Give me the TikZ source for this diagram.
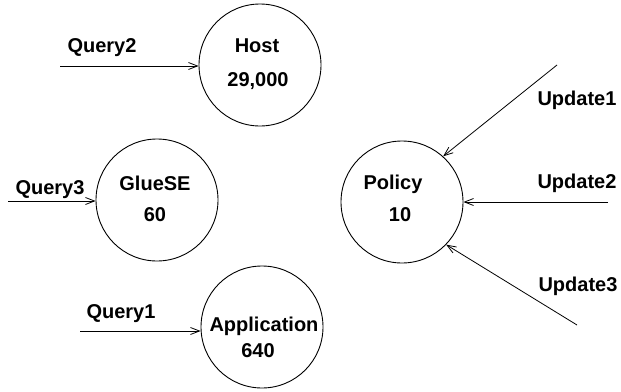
\documentclass[tikz,border=0pt]{standalone}
\usepackage{fontspec}
\setmainfont{Liberation Sans}
\usetikzlibrary{arrows.meta}
\begin{document}
\begin{tikzpicture}[x=1pt,y=-1pt,
  store/.style={circle,draw,line width=0.9pt,minimum size=122pt,inner sep=0pt},
  lbl/.style={anchor=base,font=\fontsize{20}{24}\selectfont\bfseries,inner sep=0pt},
  flow/.style={line width=0.8pt,-{Straight Barb[length=9pt,width=7pt,line width=0.8pt]}}]
\useasboundingbox (0,0) rectangle (621,391);
% stores
\node[store] (host) at (260,65) {};
\node[store] (glue) at (157,200) {};
\node[store] (app) at (262,327) {};
\node[store] (policy) at (402,202) {};
% store texts
\node[lbl] (hostt) at (257,52) {Host};
\node[lbl] (hostn) at (258,86) {29,000};
\node[lbl] (gluet) at (155,190) {GlueSE};
\node[lbl] (gluen) at (155,221) {60};
\node[lbl] (appt) at (264,331) {Application};
\node[lbl] (appn) at (258,357) {640};
\node[lbl] (polt) at (393,189) {Policy};
\node[lbl] (poln) at (400,221) {10};
% sources
\coordinate (q2) at (60,66);
\coordinate (q3) at (8,201);
\coordinate (q1) at (80,331);
\coordinate (u1) at (557,65);
\coordinate (u2) at (608,202);
\coordinate (u3) at (577,325);
% flows
\draw[flow] (q2) -- (host.west |- q2);
\draw[flow] (q3) -- (glue.west |- q3);
\draw[flow] (q1) -- (app.west |- q1);
\draw[flow] (u1) -- (policy.48);
\draw[flow] (u2) -- (policy.east);
\draw[flow] (u3) -- (policy.-44);
% flow labels
\node[lbl] (q2l) at (102,52) {Query2};
\node[lbl] (q3l) at (50,194) {Query3};
\node[lbl] (q1l) at (121,318) {Query1};
\node[lbl] (u1l) at (577,105) {Update1};
\node[lbl] (u2l) at (577,188) {Update2};
\node[lbl] (u3l) at (578,291) {Update3};
\end{tikzpicture}
\end{document}
